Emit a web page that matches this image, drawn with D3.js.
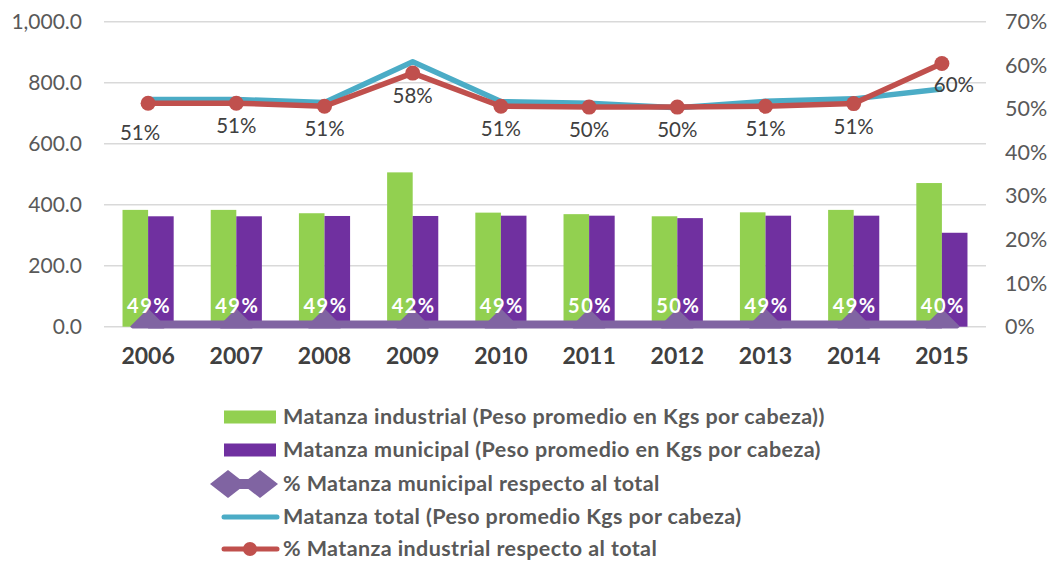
<!DOCTYPE html>
<html><head><meta charset="utf-8">
<script src="https://cdn.jsdelivr.net/npm/d3@7"></script>
<style>body{margin:0;background:#fff;} text{font-family:Lato, "Open Sans", sans-serif;}</style>
</head><body><svg id="c" width="1055" height="562"></svg>
<script>
const years = ["2006","2007","2008","2009","2010","2011","2012","2013","2014","2015"];
const industrial = [383, 383, 372, 506, 374, 369, 362, 375, 383, 471];
const municipal = [362, 362, 363, 363, 364, 364, 356, 364, 364, 308];
const total = [745, 745, 735, 869, 738, 733, 718, 739, 747, 779];
const pctIndustrial = [51.3, 51.3, 50.6, 58.2, 50.6, 50.4, 50.4, 50.6, 51.2, 60.4];
const pctMunicipal = [48.7, 48.7, 49.4, 41.8, 49.4, 49.6, 49.6, 49.4, 48.8, 39.6];
const leftTicks = [0, 200, 400, 600, 800, 1000];
const rightTicks = [0, 10, 20, 30, 40, 50, 60, 70];
const legendLabels = [
  "Matanza industrial (Peso promedio en Kgs por cabeza))",
  "Matanza municipal (Peso promedio en Kgs por cabeza)",
  "% Matanza municipal respecto al total",
  "Matanza total (Peso promedio Kgs por cabeza)",
  "% Matanza industrial respecto al total"
];

const C = {green:"#92D050", purple:"#7030A0", lav:"#8064A2", teal:"#4BACC6", red:"#C0504D", grid:"#D9D9D9", txt:"#595959", dark:"#404040"};
const svg = d3.select("#c");
const L = 104, R = 986, T = 21.7, B = 326.7;

const x0 = d3.scaleBand().domain(years).range([L, R]).paddingInner(0.42).paddingOuter(0.21);
const x1 = d3.scaleBand().domain(["ind","mun"]).range([0, x0.bandwidth()]);
const yL = d3.scaleLinear().domain([0, 1000]).range([B, T]);
const yR = d3.scaleLinear().domain([0, 70]).range([B, T]);
const cx = d => x0(d) + x0.bandwidth() / 2;

// gridlines
svg.append("g").selectAll("line").data(leftTicks).join("line")
  .attr("x1", L).attr("x2", R).attr("y1", d => yL(d)).attr("y2", d => yL(d))
  .attr("stroke", C.grid).attr("stroke-width", 1.5);

// left axis
const fmtL = d3.format(",.1f");
const axL = svg.append("g").attr("transform", `translate(${L},0)`)
  .call(d3.axisLeft(yL).tickValues(leftTicks).tickFormat(fmtL).tickSize(0).tickPadding(22));
axL.select(".domain").remove();
axL.selectAll("text").attr("fill", C.txt).style("font-size", "21px").style("font-family", "Lato");

// right axis
const axR = svg.append("g").attr("transform", `translate(${R},0)`)
  .call(d3.axisRight(yR).tickValues(rightTicks).tickFormat(d => d + "%").tickSize(0).tickPadding(19));
axR.select(".domain").remove();
axR.selectAll("text").attr("fill", C.txt).style("font-size", "21.5px").style("font-family", "Lato");

// x axis labels
const axX = svg.append("g").attr("transform", `translate(0,${B})`)
  .call(d3.axisBottom(x0).tickSize(0).tickPadding(21));
axX.select(".domain").remove();
axX.selectAll("text").attr("fill", C.dark).style("font-size", "23px").style("font-weight", "bold").style("font-family", "Lato");

// bars
const g = svg.append("g");
g.selectAll(".bi").data(years).join("rect")
  .attr("x", (d) => x0(d) + x1("ind")).attr("width", x1.bandwidth())
  .attr("y", (d, i) => yL(industrial[i])).attr("height", (d, i) => B - yL(industrial[i]))
  .attr("fill", C.green);
g.selectAll(".bm").data(years).join("rect")
  .attr("x", (d) => x0(d) + x1("mun")).attr("width", x1.bandwidth())
  .attr("y", (d, i) => yL(municipal[i])).attr("height", (d, i) => B - yL(municipal[i]))
  .attr("fill", C.purple);

// clip for municipal % line (plotted on left axis, near zero)
svg.append("clipPath").attr("id", "pc").append("rect")
  .attr("x", 0).attr("y", 0).attr("width", 1055).attr("height", B + 1.8);
const gm = svg.append("g").attr("clip-path", "url(#pc)");
const mLine = d3.line().x((d, i) => cx(years[i])).y(d => yL(d / 100));
gm.append("path").datum(pctMunicipal).attr("d", mLine)
  .attr("fill", "none").attr("stroke", C.lav).attr("stroke-width", 12);
const diamond = (s, hw, hh) => `M0,${-hh}L${hw},0L0,${hh}L${-hw},0Z`;
gm.selectAll(".dm").data(pctMunicipal).join("path")
  .attr("transform", (d, i) => `translate(${cx(years[i])},${yL(d / 100)})`)
  .attr("d", diamond(0, 18, 18)).attr("fill", C.lav);

// municipal % labels
svg.append("g").selectAll("text").data(pctMunicipal).join("text")
  .attr("x", (d, i) => cx(years[i]) + 1).attr("y", B - 14)
  .attr("text-anchor", "middle").attr("fill", "#fff")
  .style("font-size", "20px").style("font-weight", "bold").style("letter-spacing", "1.5px")
  .text(d => Math.round(d) + "%");

// total line
const tLine = d3.line().x((d, i) => cx(years[i])).y(d => yL(d));
svg.append("path").datum(total).attr("d", tLine)
  .attr("fill", "none").attr("stroke", C.teal).attr("stroke-width", 5.5).attr("stroke-linejoin", "round");

// industrial % line
const rLine = d3.line().x((d, i) => cx(years[i])).y(d => yR(d));
svg.append("path").datum(pctIndustrial).attr("d", rLine)
  .attr("fill", "none").attr("stroke", C.red).attr("stroke-width", 5.5).attr("stroke-linejoin", "round");
svg.append("g").selectAll("circle").data(pctIndustrial).join("circle")
  .attr("cx", (d, i) => cx(years[i])).attr("cy", d => yR(d)).attr("r", 7.5).attr("fill", C.red);

// industrial % labels
svg.append("g").selectAll("text").data(pctIndustrial).join("text")
  .attr("x", (d, i) => cx(years[i]) + (i === 0 ? -8 : i === years.length - 1 ? 12 : 0))
  .attr("y", (d, i) => yR(d) + (i === 0 ? 37 : i === years.length - 1 ? 28 : 30))
  .attr("text-anchor", "middle").attr("fill", C.dark)
  .style("font-size", "20.5px")
  .text(d => Math.round(d) + "%");

// legend
const lg = svg.append("g");
const ly = [417, 450, 484, 517, 549];
const lx = 283;
lg.append("rect").attr("x", 224).attr("y", ly[0] - 6.5).attr("width", 52).attr("height", 13).attr("fill", C.green);
lg.append("rect").attr("x", 224).attr("y", ly[1] - 6.5).attr("width", 52).attr("height", 13).attr("fill", C.purple);
lg.append("line").attr("x1", 228).attr("x2", 260).attr("y1", ly[2]).attr("y2", ly[2]).attr("stroke", C.lav).attr("stroke-width", 10);
[228, 260].forEach(px => lg.append("path").attr("transform", `translate(${px},${ly[2]})`).attr("d", diamond(0, 18, 14)).attr("fill", C.lav));
lg.append("line").attr("x1", 224).attr("x2", 277).attr("y1", ly[3]).attr("y2", ly[3]).attr("stroke", C.teal).attr("stroke-width", 5).attr("stroke-linecap", "round");
lg.append("line").attr("x1", 224).attr("x2", 277).attr("y1", ly[4]).attr("y2", ly[4]).attr("stroke", C.red).attr("stroke-width", 5).attr("stroke-linecap", "round");
lg.append("circle").attr("cx", 250).attr("cy", ly[4]).attr("r", 7).attr("fill", C.red);
lg.selectAll("text").data(legendLabels).join("text")
  .attr("x", lx).attr("y", (d, i) => ly[i]).attr("dy", "0.33em")
  .attr("fill", C.txt).style("font-size", "21.5px").style("font-weight", "bold").style("letter-spacing", "0.4px")
  .text(d => d);
</script></body></html>
